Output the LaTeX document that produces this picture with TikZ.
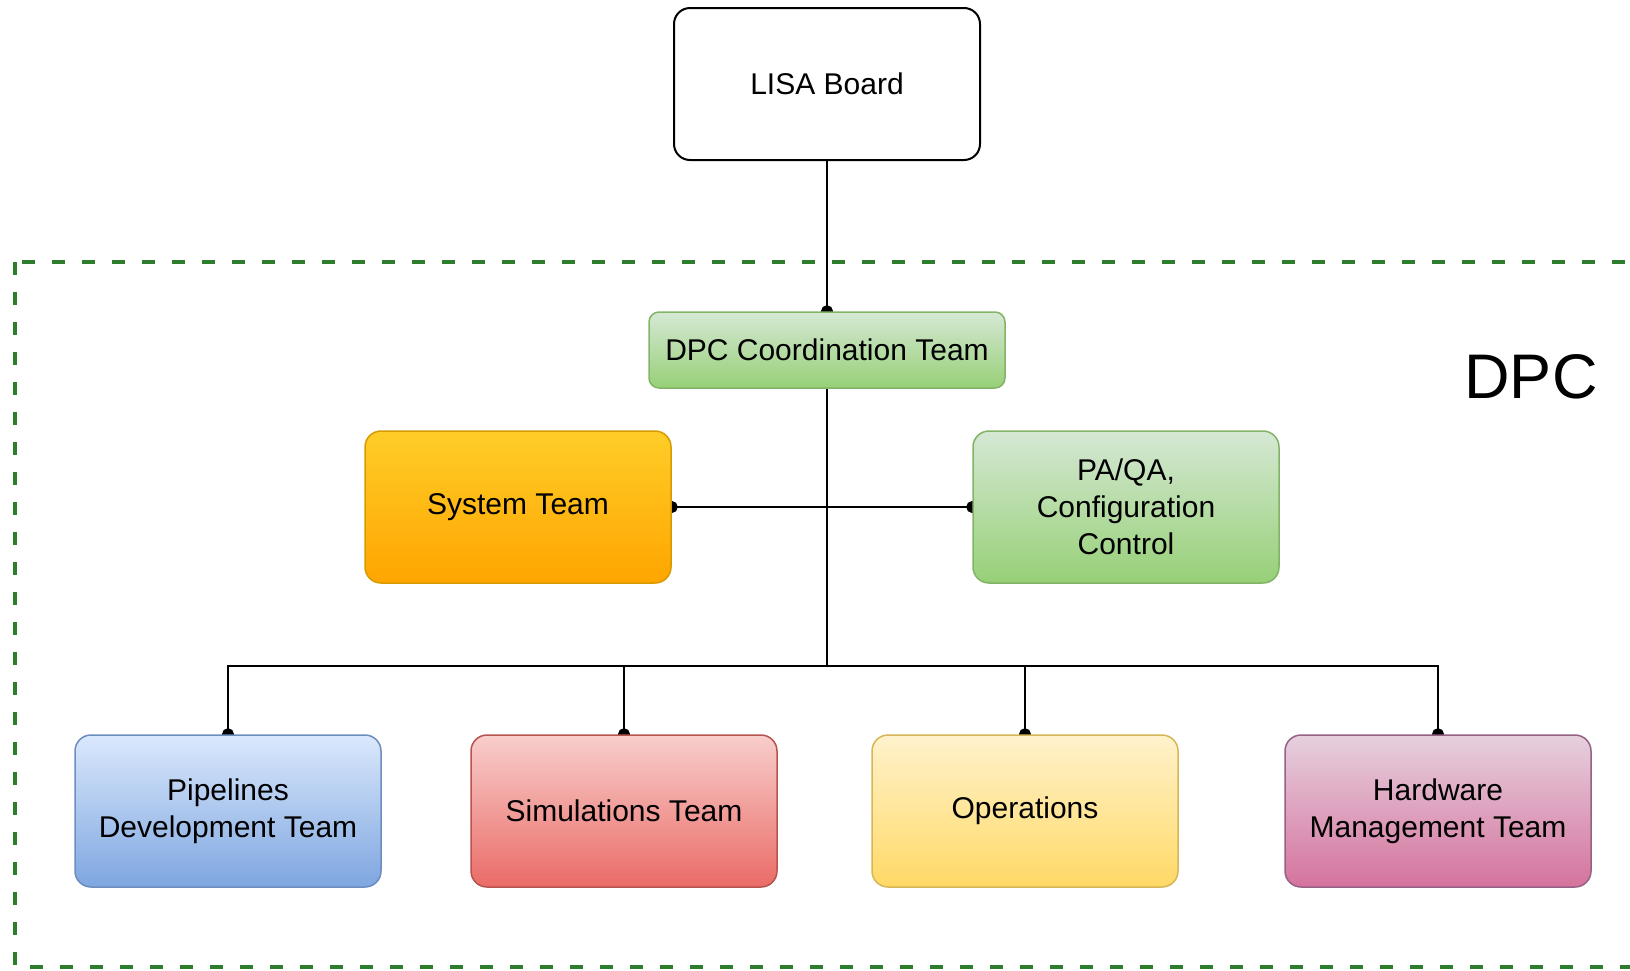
\documentclass[tikz,border=0pt]{standalone}
\usepackage{fontspec}
\setmainfont{Liberation Sans}
\usetikzlibrary{arrows.meta}
\usetikzlibrary{backgrounds}

\definecolor{dpcgreen}{RGB}{45,125,45}
\definecolor{greentop}{RGB}{213,232,212}
\definecolor{greenbot}{RGB}{151,208,119}
\definecolor{greenline}{RGB}{130,179,102}
\definecolor{orangetop}{RGB}{255,205,40}
\definecolor{orangebot}{RGB}{255,165,0}
\definecolor{orangeline}{RGB}{215,155,0}
\definecolor{bluetop}{RGB}{218,232,252}
\definecolor{bluebot}{RGB}{126,166,224}
\definecolor{blueline}{RGB}{108,142,191}
\definecolor{redtop}{RGB}{248,206,204}
\definecolor{redbot}{RGB}{234,107,102}
\definecolor{redline}{RGB}{184,84,80}
\definecolor{yellowtop}{RGB}{255,242,204}
\definecolor{yellowbot}{RGB}{255,217,102}
\definecolor{yellowline}{RGB}{214,182,86}
\definecolor{pinktop}{RGB}{230,208,222}
\definecolor{pinkbot}{RGB}{213,115,157}
\definecolor{pinkline}{RGB}{150,97,133}

\begin{document}
\begin{tikzpicture}[x=1pt, y=-1pt, every node/.style = {shape=rectangle,
	align=center, font=\fontsize{30}{37}\selectfont, line width=1.5pt},
	team/.style = {rounded corners=16pt, minimum width=306pt, minimum height=152pt},
	shade/.style n args = {3}{top color=#1, bottom color=#2, draw=#3},
	link/.style = {line width=2pt, -{Circle[length=12pt]}, shorten >=-6pt}]
\useasboundingbox (0,0) rectangle (1630,970);
\draw[dpcgreen, line width=3.5pt, dash pattern=on 13pt off 17pt] (15,262) rectangle (1690,967);

\node[team, draw=black, line width=2pt, fill=white] (board) at (827,84) {LISA Board};
\node[rounded corners=10pt, minimum width=356pt, minimum height=76pt,
	shade={greentop}{greenbot}{greenline}] (coord) at (827,350) {DPC Coordination Team};
\node[team, shade={orangetop}{orangebot}{orangeline}] (sys) at (518,507) {System Team};
\node[team, shade={greentop}{greenbot}{greenline}] (paqa) at (1126,507) {PA/QA,\\Configuration\\Control};
\node[team, shade={bluetop}{bluebot}{blueline}] (pipe) at (228,811) {Pipelines\\Development Team};
\node[team, shade={redtop}{redbot}{redline}] (sim) at (624,811) {Simulations Team};
\node[team, shade={yellowtop}{yellowbot}{yellowline}] (ops) at (1025,811) {Operations};
\node[team, shade={pinktop}{pinkbot}{pinkline}] (hw) at (1438,811) {Hardware\\Management Team};
\node[font=\fontsize{63}{70}\selectfont] (dpc) at (1531,377) {DPC};

\coordinate (bus) at (827,666);
\begin{scope}[on background layer]
\draw[link] (board) -- (coord);
\draw[link] (coord.south) |- (sys.east);
\draw[link] (coord.south) |- (paqa.west);
\foreach \t in {pipe, sim, ops, hw}
	\draw[link] (coord.south) -- (bus) -| (\t.north);
\end{scope}
\end{tikzpicture}
\end{document}
